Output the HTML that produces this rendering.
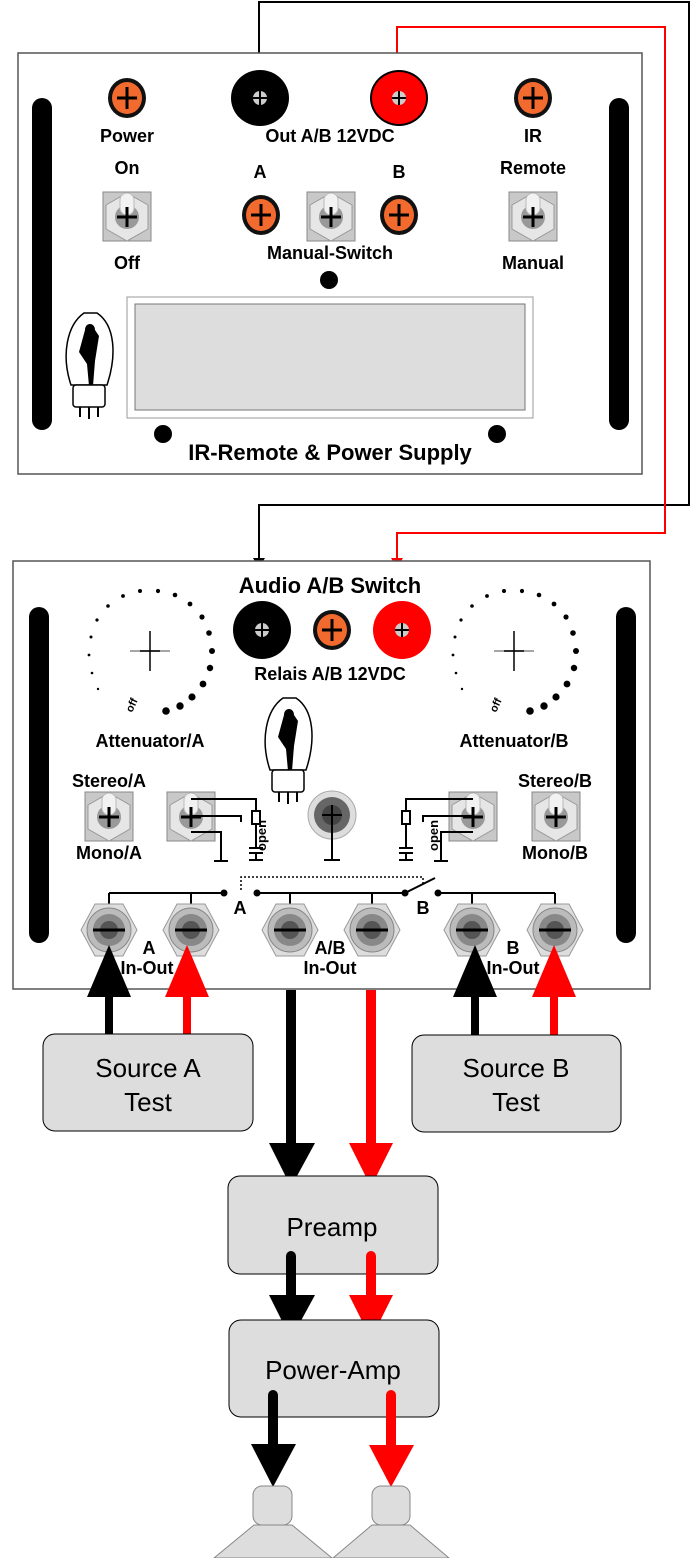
<!DOCTYPE html>
<html><head><meta charset="utf-8"><style>
html,body{margin:0;padding:0;background:#fff}
svg{display:block}
.t{font-family:"Liberation Sans",sans-serif;font-weight:bold;fill:#000}
.r{font-family:"Liberation Sans",sans-serif;fill:#000}
</style></head><body>
<svg width="693" height="1558" viewBox="0 0 693 1558" xmlns="http://www.w3.org/2000/svg">
<defs>
<g id="orange"><ellipse cx="0" cy="0" rx="19" ry="20" fill="#111"/><ellipse cx="0" cy="0" rx="15" ry="16" fill="#f26a2e"/><path d="M-10 0H10M0 -11V11" stroke="#000" stroke-width="3"/></g>
<g id="tog"><rect x="-24" y="-25" width="48" height="49" fill="#c8c8c8" stroke="#888"/><polygon points="0,-24 21,-12 21,12 0,24 -21,12 -21,-12" fill="#e6e6e6" stroke="#999"/><circle r="12" fill="#999"/><rect x="-7" y="-24" width="14" height="22" rx="7" fill="#f2f2f2" stroke="#bbb"/><path d="M-10 0H10M0 -10V10" stroke="#000" stroke-width="3"/></g>
<g id="jack"><polygon points="-14,-26 14,-26 28,0 14,26 -14,26 -28,0" fill="#ddd" stroke="#999"/><circle r="22" fill="#bbb" stroke="#888"/><circle r="16" fill="#888"/><circle r="9" fill="#555"/><path d="M-16 0H16" stroke="#000" stroke-width="3"/></g>
<g id="tube"><path d="M-18 20 C-28 -10 -22 -40 -5 -52 L8 -52 C26 -40 28 -10 18 20 Z" fill="#fff" stroke="#000" stroke-width="1.5"/><path d="M-4 -35 c0-8 10-8 10 0 l4 6 l-4 25 l-2 25 h-4 l-2-22 l-8-12 z" fill="#000"/><rect x="-16" y="20" width="32" height="22" rx="3" fill="#fff" stroke="#000" stroke-width="1.5"/><path d="M-9 42v10M0 42v12M9 42v10" stroke="#000" stroke-width="2"/></g>
</defs>

<path d="M259 80V2H689V505H259V560" fill="none" stroke="#000" stroke-width="2"/>
<polygon points="253,558 265,558 259,568" fill="#000"/>
<path d="M397 80V27H665V533H397V560" fill="none" stroke="#f00" stroke-width="2"/>
<polygon points="391,558 403,558 397,568" fill="#f00"/>

<rect x="18" y="53" width="624" height="421" fill="#fff" stroke="#555" stroke-width="1.5"/>
<rect x="32" y="98" width="20" height="332" rx="10" fill="#000"/>
<rect x="609" y="98" width="20" height="332" rx="10" fill="#000"/>
<use href="#orange" x="127" y="98"/>
<use href="#orange" x="533" y="98"/>
<ellipse cx="260" cy="98" rx="29" ry="28" fill="#000"/><circle cx="260" cy="98" r="7" fill="#ccc"/><path d="M253 98h14M260 91v14" stroke="#000" stroke-width="2"/>
<ellipse cx="399" cy="98" rx="29" ry="28" fill="#000"/><ellipse cx="399" cy="98" rx="27" ry="26" fill="#f00"/><circle cx="399" cy="98" r="7" fill="#ccc"/><path d="M392 98h14M399 91v14" stroke="#000" stroke-width="2"/>
<text class="t" x="127" y="142" font-size="18" text-anchor="middle">Power</text>
<text class="t" x="330" y="142" font-size="18" text-anchor="middle">Out A/B 12VDC</text>
<text class="t" x="533" y="142" font-size="18" text-anchor="middle">IR</text>
<text class="t" x="127" y="174" font-size="18" text-anchor="middle">On</text>
<text class="t" x="533" y="174" font-size="18" text-anchor="middle">Remote</text>
<text class="t" x="260" y="178" font-size="18" text-anchor="middle">A</text>
<text class="t" x="399" y="178" font-size="18" text-anchor="middle">B</text>
<use href="#tog" x="127" y="217"/>
<use href="#tog" x="533" y="217"/>
<use href="#tog" x="331" y="217"/>
<use href="#orange" x="261" y="215"/>
<use href="#orange" x="399" y="215"/>
<text class="t" x="127" y="269" font-size="18" text-anchor="middle">Off</text>
<text class="t" x="330" y="259" font-size="18" text-anchor="middle">Manual-Switch</text>
<text class="t" x="533" y="269" font-size="18" text-anchor="middle">Manual</text>
<ellipse cx="329" cy="280" rx="9" ry="9" fill="#000"/>
<rect x="127" y="297" width="406" height="121" fill="#fff" stroke="#999"/>
<rect x="135" y="304" width="390" height="106" fill="#ddd" stroke="#777"/>
<use href="#tube" x="89" y="365"/>
<ellipse cx="163" cy="434" rx="9" ry="9" fill="#000"/>
<ellipse cx="497" cy="434" rx="9" ry="9" fill="#000"/>
<text class="t" x="330" y="460" font-size="22" text-anchor="middle">IR-Remote &amp; Power Supply</text>

<rect x="13" y="561" width="637" height="428" fill="#fff" stroke="#555" stroke-width="1.5"/>
<rect x="29" y="607" width="20" height="336" rx="10" fill="#000"/>
<rect x="616" y="607" width="20" height="336" rx="10" fill="#000"/>
<text class="t" x="330" y="593" font-size="22" text-anchor="middle">Audio A/B Switch</text>
<circle cx="262" cy="630" r="29" fill="#000"/><circle cx="262" cy="630" r="7" fill="#ccc"/><path d="M255 630h14M262 623v14" stroke="#000" stroke-width="2"/>
<use href="#orange" x="332" y="630"/>
<circle cx="402" cy="630" r="29" fill="#f00"/><circle cx="402" cy="630" r="7" fill="#ccc"/><path d="M395 630h14M402 623v14" stroke="#000" stroke-width="2"/>
<text class="t" x="330" y="680" font-size="18" text-anchor="middle">Relais A/B 12VDC</text>

<g id="attA" transform="translate(150,651)">
<g fill="#000">
<circle cx="-52" cy="38" r="1.2"/><circle cx="-58" cy="22" r="1.3"/><circle cx="-61" cy="4" r="1.4"/><circle cx="-59" cy="-14" r="1.5"/><circle cx="-53" cy="-31" r="1.6"/><circle cx="-42" cy="-45" r="1.8"/><circle cx="-27" cy="-55" r="1.9"/><circle cx="-10" cy="-60" r="2"/><circle cx="8" cy="-60" r="2.1"/><circle cx="25" cy="-56" r="2.3"/><circle cx="40" cy="-47" r="2.4"/><circle cx="52" cy="-34" r="2.6"/><circle cx="59" cy="-18" r="2.8"/><circle cx="62" cy="0" r="3"/><circle cx="60" cy="17" r="3.2"/><circle cx="53" cy="33" r="3.4"/><circle cx="42" cy="46" r="3.6"/><circle cx="30" cy="55" r="3.7"/><circle cx="16" cy="60" r="3.8"/>
</g>
<path d="M-20 0H20" stroke="#888" stroke-width="1.5"/><path d="M-10 0H10M0 -20V20" stroke="#000" stroke-width="1.5"/>
<text class="t" x="-18" y="62" font-size="11" transform="rotate(-65 -18 62)">off</text>
</g>
<use href="#attA" x="364" y="0"/>
<text class="t" x="150" y="747" font-size="18" text-anchor="middle">Attenuator/A</text>
<text class="t" x="514" y="747" font-size="18" text-anchor="middle">Attenuator/B</text>
<use href="#tube" x="288" y="750"/>
<text class="t" x="109" y="787" font-size="18" text-anchor="middle">Stereo/A</text>
<text class="t" x="109" y="859" font-size="18" text-anchor="middle">Mono/A</text>
<text class="t" x="555" y="787" font-size="18" text-anchor="middle">Stereo/B</text>
<text class="t" x="555" y="859" font-size="18" text-anchor="middle">Mono/B</text>
<use href="#tog" x="109" y="817"/>
<use href="#tog" x="191" y="817"/>
<use href="#tog" x="473" y="817"/>
<use href="#tog" x="556" y="817"/>
<circle cx="332" cy="815" r="24" fill="#ddd" stroke="#aaa"/><circle cx="332" cy="815" r="18" fill="#666"/><circle cx="332" cy="815" r="10" fill="#444"/>
<path d="M322 815h20M332 805V860M324 860h16" stroke="#000" stroke-width="2"/>
<g fill="none" stroke="#000" stroke-width="2">
<path d="M191 799H256V811M256 823V848M249 848h14M249 853h14M256 853V860M249 860h14"/>
<rect x="252" y="811" width="8" height="13" fill="#fff"/>
<path d="M191 816H241V822M191 832H221V861M214 861h14"/>
<path d="M473 799H406V811M406 823V848M399 848h14M399 853h14M406 853V860M399 860h14"/>
<rect x="402" y="811" width="8" height="13" fill="#fff"/>
<path d="M473 816H423V822M473 832H441V861M434 861h14"/>
</g>
<text class="t" x="236" y="861" font-size="13" transform="rotate(-90 246 841)">open</text>
<text class="t" x="408" y="861" font-size="13" transform="rotate(-90 418 841)">open</text>
<path d="M109 893H224M257 893H405M438 893H555M405 893L435 878" stroke="#000" stroke-width="2" fill="none"/>
<circle cx="224" cy="893" r="3.5"/><circle cx="257" cy="893" r="3.5"/><circle cx="405" cy="893" r="3.5"/><circle cx="438" cy="893" r="3.5"/>
<path d="M241 890V877H423V884" stroke="#000" stroke-width="1.5" stroke-dasharray="2,2" fill="none"/>
<text class="t" x="240" y="914" font-size="18" text-anchor="middle">A</text>
<text class="t" x="423" y="914" font-size="18" text-anchor="middle">B</text>
<path d="M109 893V930M191 893V930M290 893V930M372 893V930M472 893V930M555 893V930" stroke="#000" stroke-width="2"/>
<use href="#jack" x="109" y="930"/><use href="#jack" x="191" y="930"/><use href="#jack" x="290" y="930"/><use href="#jack" x="372" y="930"/><use href="#jack" x="472" y="930"/><use href="#jack" x="555" y="930"/>
<text class="t" x="149" y="954" font-size="18" text-anchor="middle">A</text>
<text class="t" x="147" y="974" font-size="18" text-anchor="middle">In-Out</text>
<text class="t" x="330" y="954" font-size="18" text-anchor="middle">A/B</text>
<text class="t" x="330" y="974" font-size="18" text-anchor="middle">In-Out</text>
<text class="t" x="513" y="954" font-size="18" text-anchor="middle">B</text>
<text class="t" x="513" y="974" font-size="18" text-anchor="middle">In-Out</text>

<g stroke-linecap="round">
<path d="M109 1040V985" stroke="#000" stroke-width="8"/><polygon points="87,997 131,997 109,945" fill="#000"/>
<path d="M187 1040V985" stroke="#f00" stroke-width="8"/><polygon points="165,997 209,997 187,945" fill="#f00"/>
<path d="M475 1040V985" stroke="#000" stroke-width="8"/><polygon points="453,997 497,997 475,945" fill="#000"/>
<path d="M554 1040V985" stroke="#f00" stroke-width="8"/><polygon points="532,997 576,997 554,945" fill="#f00"/>
</g>
<rect x="43" y="1034" width="210" height="97" rx="12" fill="#ddd" stroke="#000" stroke-width="1"/>
<rect x="412" y="1035" width="209" height="97" rx="12" fill="#ddd" stroke="#000" stroke-width="1"/>
<text class="r" x="148" y="1077" font-size="26" text-anchor="middle">Source A</text>
<text class="r" x="148" y="1111" font-size="26" text-anchor="middle">Test</text>
<text class="r" x="516" y="1077" font-size="26" text-anchor="middle">Source B</text>
<text class="r" x="516" y="1111" font-size="26" text-anchor="middle">Test</text>

<path d="M291 990V1150" stroke="#000" stroke-width="10"/><polygon points="269,1143 315,1143 291,1187" fill="#000"/>
<path d="M371 990V1150" stroke="#f00" stroke-width="10"/><polygon points="349,1143 393,1143 371,1187" fill="#f00"/>
<rect x="228" y="1176" width="210" height="98" rx="12" fill="#ddd" stroke="#000" stroke-width="1"/>
<text class="r" x="332" y="1236" font-size="26" text-anchor="middle">Preamp</text>
<path d="M291 1256V1300" stroke="#000" stroke-width="10" stroke-linecap="round"/><polygon points="269,1295 315,1295 291,1339" fill="#000"/>
<path d="M371 1256V1300" stroke="#f00" stroke-width="10" stroke-linecap="round"/><polygon points="349,1295 393,1295 371,1339" fill="#f00"/>
<rect x="229" y="1320" width="210" height="97" rx="12" fill="#ddd" stroke="#000" stroke-width="1"/>
<text class="r" x="333" y="1379" font-size="26" text-anchor="middle">Power-Amp</text>
<path d="M273 1395V1450" stroke="#000" stroke-width="10" stroke-linecap="round"/><polygon points="251,1444 296,1444 273,1487" fill="#000"/>
<path d="M391 1395V1450" stroke="#f00" stroke-width="10" stroke-linecap="round"/><polygon points="369,1445 414,1445 391,1487" fill="#f00"/>
<rect x="253" y="1486" width="39" height="39" rx="9" fill="#ddd" stroke="#888"/>
<polygon points="254,1525 292,1525 332,1558 214,1558" fill="#ddd" stroke="#888"/>
<rect x="372" y="1486" width="38" height="39" rx="9" fill="#ddd" stroke="#888"/>
<polygon points="372,1525 410,1525 449,1558 333,1558" fill="#ddd" stroke="#888"/>
</svg>
</body></html>
